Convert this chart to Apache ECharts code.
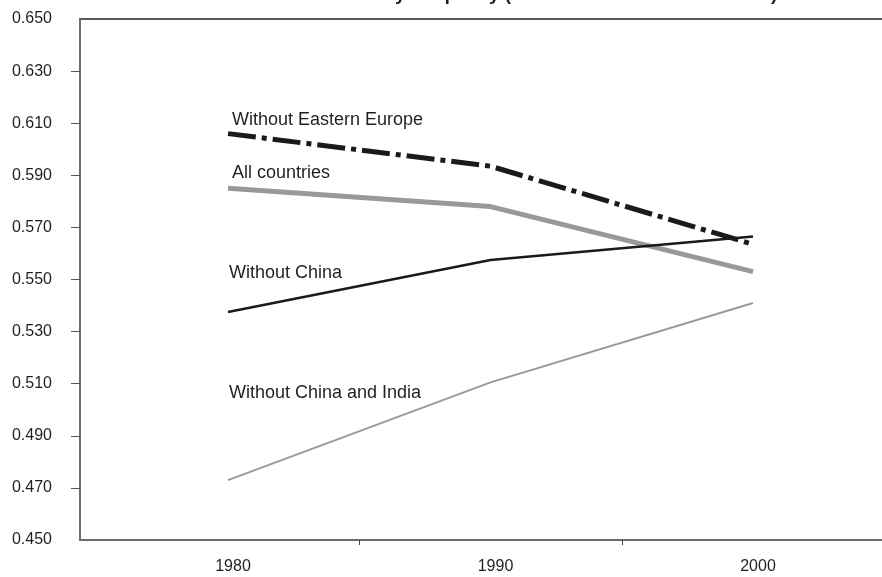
<!DOCTYPE html>
<html><head><meta charset="utf-8">
<script src="https://cdn.jsdelivr.net/npm/echarts@6/dist/echarts.min.js"></script>
<style>html,body{margin:0;padding:0;background:#fff}#c{width:882px;height:577px}</style>
</head><body><div id="c"></div>
<script>
// ---- data ----
const years = [1980, 1990, 2000];
const yearTickLabels = ['1980', '1990', '2000'];
const yTickValues = [0.45, 0.47, 0.49, 0.51, 0.53, 0.55, 0.57, 0.59, 0.61, 0.63, 0.65];
const allCountries = [0.585, 0.578, 0.553];
const withoutEasternEurope = [0.606, 0.5935, 0.5635];
const withoutChina = [0.5375, 0.5575, 0.5665];
const withoutChinaIndia = [0.473, 0.5105, 0.541];
const seriesNames = ['All countries', 'Without Eastern Europe', 'Without China', 'Without China and India'];
const titleText = 'Evolution of the between-country inequality (Gini coefficient in 1980–2000)';

const FONT = '"Liberation Sans", Arial, sans-serif';
const TXT = '#231f20';

function mk(name, vals, style, labelPos, z) {
  return {
    type: 'line', name: name, z: z,
    data: years.map((y, i) => {
      const d = { value: [y, vals[i]] };
      if (i === 0) {
        d.label = { show: true, formatter: name, position: labelPos, align: 'left', verticalAlign: 'middle',
          color: TXT, fontFamily: FONT, fontSize: 18 };
      }
      return d;
    }),
    showSymbol: true, symbol: 'circle', symbolSize: 0,
    itemStyle: { color: 'rgba(0,0,0,0)' },
    lineStyle: style,
    emphasis: { disabled: true },
    silent: true
  };
}

const chart = echarts.init(document.getElementById('c'), null, { renderer: 'canvas' });
chart.setOption({
  animation: false,
  backgroundColor: '#fff',
  title: { text: titleText, left: 'center', top: -20,
    textStyle: { fontFamily: FONT, fontSize: 19, fontWeight: 'bold', color: TXT } },
  grid: { left: 80, right: -20, top: 19, bottom: 37, show: true, borderColor: '#222', borderWidth: 1.5,
    outerBoundsMode: 'none', containLabel: false },
  xAxis: {
    type: 'value', min: 1974.362, max: 2005.676,
    axisLine: { show: true, lineStyle: { color: '#6d6d6d', width: 2 } },
    axisTick: { show: true, customValues: [1985, 1995], length: 5, inside: false, lineStyle: { color: '#444', width: 1 } },
    axisLabel: { customValues: years, formatter: v => yearTickLabels[years.indexOf(v)] || '', margin: 19,
      padding: [0, 0, 0, 10], color: TXT, fontFamily: FONT, fontSize: 16 },
    splitLine: { show: false }
  },
  yAxis: {
    type: 'value', min: 0.45, max: 0.65, interval: 0.02,
    axisLine: { show: true, lineStyle: { color: '#6d6d6d', width: 2 } },
    axisTick: { show: true, customValues: yTickValues.slice(1, -1), length: 9, lineStyle: { color: '#555', width: 1 } },
    axisLabel: { customValues: yTickValues, formatter: v => v.toFixed(3), margin: 28,
      color: TXT, fontFamily: FONT, fontSize: 16 },
    splitLine: { show: false }
  },
  series: [
    mk(seriesNames[3], withoutChinaIndia, { color: '#999999', width: 2 }, [1, -87], 2),
    mk(seriesNames[0], allCountries, { color: '#999999', width: 5 }, [4, -15], 3),
    mk(seriesNames[2], withoutChina, { color: '#1a1a1a', width: 2.5 }, [1, -39], 4),
    mk(seriesNames[1], withoutEasternEurope, { color: '#1a1a1a', width: 5, type: [28, 6, 5, 6] }, [4, -14], 5)
  ]
});
</script>
</body></html>
